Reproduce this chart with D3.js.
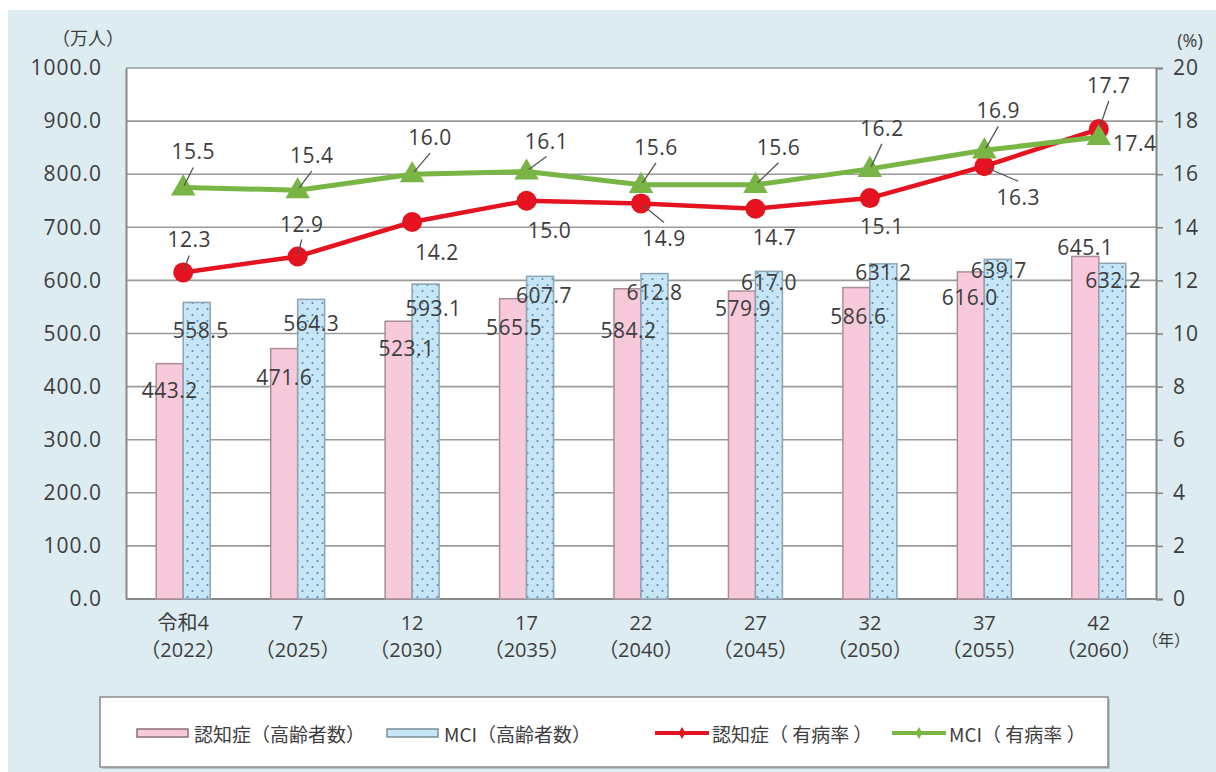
<!DOCTYPE html>
<html>
<head>
<meta charset="utf-8">
<script src="https://cdn.jsdelivr.net/npm/d3@7"></script>
<style>
  body { margin: 0; background: #fff; }
  svg { display: block; font-family: "Open Sans", "Noto Sans CJK JP", sans-serif; }
</style>
</head>
<body>
<svg id="chart" width="1216" height="772"></svg>
<script>
// data
var categories = ['令和4', '7', '12', '17', '22', '27', '32', '37', '42']
var years = ['2022', '2025', '2030', '2035', '2040', '2045', '2050', '2055', '2060']
var dementiaCount = [443.2, 471.6, 523.1, 565.5, 584.2, 579.9, 586.6, 616.0, 645.1]
var mciCount = [558.5, 564.3, 593.1, 607.7, 612.8, 617.0, 631.2, 639.7, 632.2]
var dementiaRate = [12.3, 12.9, 14.2, 15.0, 14.9, 14.7, 15.1, 16.3, 17.7]
var mciRate = [15.5, 15.4, 16.0, 16.1, 15.6, 15.6, 16.2, 16.9, 17.4]
var leftTicks = [0, 100, 200, 300, 400, 500, 600, 700, 800, 900, 1000]
var rightTicks = [0, 2, 4, 6, 8, 10, 12, 14, 16, 18, 20]
var legendLabels = ['認知症（高齢者数）', 'MCI（高齢者数）', '認知症（ 有病率 ）', 'MCI（ 有病率 ）']

// label placement (offsets from the mark, px) - layout only
var dementiaCountOff = [[0,26],[0,28],[8,27],[1,28],[1,41],[1,17],[2,28],[-1,25],[0,-9]]
var mciCountOff = [[4,28],[0,24],[8,24],[4,19],[0,18],[0,11],[0,8],[1,11],[1,17]]
var dementiaRateOff = [[6,-33,1],[4,-33,1],[25,30,0],[23,29,0],[23,35,1],[19,28,0],[12,28,0],[34,31,1],[10,-44,1]]
var mciRateOff = [[10,-36,1],[14,-35,1],[18,-37,1],[20,-31,1],[15,-38,1],[23,-38,1],[12,-41,1],[14,-40,1],[36,6,0]]

var TEXT_COLOR = '#3d3d3d',
	GRID_COLOR = '#9a9a9a',
	PINK = '#f7c9da',
	PINK_EDGE = '#a98d98',
	BLUE = '#c6e6f7',
	BLUE_EDGE = '#8da4b3',
	RED = '#e5131f',
	GREEN = '#79b545',
	BG = '#dcecf1'

var svg = d3.select('#chart')

var defs = svg.append('defs')
var pat = defs.append('pattern')
	.attr('id', 'dots')
	.attr('patternUnits', 'userSpaceOnUse')
	.attr('width', 10)
	.attr('height', 12)
pat.append('rect').attr('width', 10).attr('height', 12).attr('fill', BLUE)
pat.append('circle').attr('cx', 2.5).attr('cy', 3).attr('r', 1.1).attr('fill', '#5b8db0')
pat.append('circle').attr('cx', 7.5).attr('cy', 9).attr('r', 1.1).attr('fill', '#5b8db0')

// background
svg.append('rect')
	.attr('x', 8).attr('y', 10)
	.attr('width', 1208).attr('height', 762)
	.attr('fill', BG)

var L = 126, R = 1156, T = 68, B = 599

var x0 = d3.scaleBand().domain(categories).range([L, R])
var x1 = d3.scaleBand().domain([0, 1]).range([-27, 27])
var yL = d3.scaleLinear().domain([0, 1000]).range([B, T])
var yR = d3.scaleLinear().domain([0, 20]).range([B, T])

svg.append('rect')
	.attr('x', L).attr('y', T)
	.attr('width', R - L).attr('height', B - T)
	.attr('fill', '#fff')

// grid
svg.append('g')
	.selectAll('line')
	.data(leftTicks)
	.enter().append('line')
		.attr('x1', L).attr('x2', R)
		.attr('y1', function(d){ return yL(d) })
		.attr('y2', function(d){ return yL(d) })
		.attr('stroke', GRID_COLOR)
		.attr('stroke-width', 1.6)

// left axis
var leftAxis = svg.append('g')
	.attr('transform', 'translate(' + L + ',0)')
	.call(d3.axisLeft(yL).tickValues(leftTicks).tickSize(0).tickPadding(24).tickFormat(d3.format('.1f')))
leftAxis.select('.domain').attr('stroke', '#888').attr('stroke-width', 2)
leftAxis.selectAll('text')
	.attr('font-size', 21)
	.attr('letter-spacing', 1)
	.attr('fill', TEXT_COLOR)
	.attr('font-family', 'Open Sans')

// right axis
var rightAxis = svg.append('g')
	.attr('transform', 'translate(' + R + ',0)')
	.call(d3.axisRight(yR).tickValues(rightTicks).tickSize(7).tickPadding(10))
rightAxis.select('.domain').attr('stroke', '#888').attr('stroke-width', 2)
rightAxis.selectAll('line').attr('stroke', '#888').attr('stroke-width', 1.6)
rightAxis.selectAll('text')
	.attr('font-size', 21)
	.attr('letter-spacing', 1)
	.attr('fill', TEXT_COLOR)
	.attr('font-family', 'Open Sans')

svg.append('line')
	.attr('x1', L).attr('x2', R)
	.attr('y1', B).attr('y2', B)
	.attr('stroke', '#888').attr('stroke-width', 2)

svg.append('text').text('（万人）')
	.attr('x', 88).attr('y', 38)
	.attr('text-anchor', 'middle').attr('dominant-baseline', 'central')
	.attr('font-size', 18).attr('fill', TEXT_COLOR)
svg.append('text').text('(%)')
	.attr('x', 1190).attr('y', 40)
	.attr('text-anchor', 'middle').attr('dominant-baseline', 'central')
	.attr('font-size', 18).attr('fill', TEXT_COLOR)

// x labels
var xl = svg.append('g').selectAll('g.xl')
	.data(categories)
	.enter().append('g')
		.attr('class', 'xl')
		.attr('transform', function(d){ return 'translate(' + (x0(d) + x0.bandwidth()/2) + ',0)' })
xl.append('text')
	.text(function(d){ return d })
	.attr('y', 622)
	.attr('text-anchor', 'middle').attr('dominant-baseline', 'central')
	.attr('font-size', 20).attr('fill', TEXT_COLOR)
xl.append('text')
	.text(function(d, i){ return '（' + years[i] + '）' })
	.attr('y', 649)
	.attr('text-anchor', 'middle').attr('dominant-baseline', 'central')
	.attr('font-size', 20).attr('fill', TEXT_COLOR)
svg.append('text').text('（年）')
	.attr('x', 1166).attr('y', 640)
	.attr('text-anchor', 'middle').attr('dominant-baseline', 'central')
	.attr('font-size', 16).attr('fill', TEXT_COLOR)

function cx(i){ return x0(categories[i]) + x0.bandwidth()/2 }

// bars
var bars = svg.append('g')
bars.selectAll('rect.dem')
	.data(dementiaCount)
	.enter().append('rect')
		.attr('class', 'dem')
		.attr('x', function(d, i){ return cx(i) + x1(0) })
		.attr('width', x1.bandwidth())
		.attr('y', function(d){ return yL(d) })
		.attr('height', function(d){ return B - yL(d) })
		.attr('fill', PINK)
		.attr('stroke', PINK_EDGE)
		.attr('stroke-width', 1.5)
bars.selectAll('rect.mci')
	.data(mciCount)
	.enter().append('rect')
		.attr('class', 'mci')
		.attr('x', function(d, i){ return cx(i) + x1(1) })
		.attr('width', x1.bandwidth())
		.attr('y', function(d){ return yL(d) })
		.attr('height', function(d){ return B - yL(d) })
		.attr('fill', 'url(#dots)')
		.attr('stroke', BLUE_EDGE)
		.attr('stroke-width', 1.5)

// bar labels
var barLabels = svg.append('g')
	.attr('font-size', 21).attr('letter-spacing', 0.5).attr('fill', TEXT_COLOR)
	.attr('text-anchor', 'middle').attr('dominant-baseline', 'central')
barLabels.selectAll('text.dl')
	.data(dementiaCount)
	.enter().append('text')
		.text(function(d){ return d.toFixed(1) })
		.attr('x', function(d, i){ return cx(i) + x1(0) + x1.bandwidth()/2 + dementiaCountOff[i][0] })
		.attr('y', function(d, i){ return yL(d) + dementiaCountOff[i][1] })
barLabels.selectAll('text.ml')
	.data(mciCount)
	.enter().append('text')
		.text(function(d){ return d.toFixed(1) })
		.attr('x', function(d, i){ return cx(i) + x1(1) + x1.bandwidth()/2 + mciCountOff[i][0] })
		.attr('y', function(d, i){ return yL(d) + mciCountOff[i][1] })

// lines
var line = d3.line()
	.x(function(d, i){ return cx(i) })
	.y(function(d){ return yR(d) })

svg.append('path')
	.datum(dementiaRate)
	.attr('d', line)
	.attr('fill', 'none')
	.attr('stroke', RED)
	.attr('stroke-width', 4.5)
svg.append('g').selectAll('circle')
	.data(dementiaRate)
	.enter().append('circle')
		.attr('cx', function(d, i){ return cx(i) })
		.attr('cy', function(d){ return yR(d) })
		.attr('r', 10)
		.attr('fill', RED)

svg.append('path')
	.datum(mciRate)
	.attr('d', line)
	.attr('fill', 'none')
	.attr('stroke', GREEN)
	.attr('stroke-width', 5)
svg.append('g').selectAll('path')
	.data(mciRate)
	.enter().append('path')
		.attr('d', d3.symbol().type(d3.symbolTriangle).size(260))
		.attr('transform', function(d, i){ return 'translate(' + cx(i) + ',' + (yR(d) + 1) + ')' })
		.attr('fill', GREEN)

// rate labels with leaders
function rateLabels(values, offs) {
	var g = svg.append('g')
	g.selectAll('line')
		.data(values.map(function(v, i){ return {v: v, i: i} }).filter(function(d){ return offs[d.i][2] }))
		.enter().append('line')
			.attr('x1', function(d){ return cx(d.i) + offs[d.i][0] * 0.1 })
			.attr('y1', function(d){ return yR(d.v) + (offs[d.i][1] < 0 ? -2 : 2) })
			.attr('x2', function(d){ return cx(d.i) + offs[d.i][0] })
			.attr('y2', function(d){ return yR(d.v) + offs[d.i][1] + (offs[d.i][1] < 0 ? 16 : -16) })
			.attr('stroke', '#555')
			.attr('stroke-width', 1.3)
	g.selectAll('text')
		.data(values)
		.enter().append('text')
			.text(function(d){ return d.toFixed(1) })
			.attr('x', function(d, i){ return cx(i) + offs[i][0] })
			.attr('y', function(d, i){ return yR(d) + offs[i][1] })
			.attr('text-anchor', 'middle').attr('dominant-baseline', 'central')
			.attr('font-size', 21).attr('letter-spacing', 0.5).attr('fill', TEXT_COLOR)
}
rateLabels(dementiaRate, dementiaRateOff)
rateLabels(mciRate, mciRateOff)

// legend
var lg = svg.append('g')
lg.append('rect')
	.attr('x', 102).attr('y', 699)
	.attr('width', 1008).attr('height', 70)
	.attr('fill', '#b9c4c8')
lg.append('rect')
	.attr('x', 100).attr('y', 697)
	.attr('width', 1008).attr('height', 70)
	.attr('fill', '#fff')
	.attr('stroke', '#8a8a8a')
	.attr('stroke-width', 1.5)

var legendX = [137, 387, 655, 892]
var items = lg.selectAll('g.item')
	.data(legendLabels)
	.enter().append('g')
		.attr('class', 'item')
		.attr('transform', function(d, i){ return 'translate(' + legendX[i] + ',733)' })
items.each(function(d, i){
	var s = d3.select(this)
	if (i < 2) {
		s.append('rect')
			.attr('x', 0).attr('y', -4)
			.attr('width', 51).attr('height', 8)
			.attr('fill', i == 0 ? PINK : BLUE)
			.attr('stroke', i == 0 ? '#8c6f7a' : '#7a8f9c')
			.attr('stroke-width', 1.5)
	} else {
		var c = i == 2 ? RED : GREEN
		s.append('line')
			.attr('x1', 0).attr('x2', 54)
			.attr('y1', 0).attr('y2', 0)
			.attr('stroke', c).attr('stroke-width', 4)
		s.append('path')
			.attr('d', d3.symbol().type(d3.symbolDiamond).size(40))
			.attr('transform', 'translate(27,0)')
			.attr('fill', c)
	}
	s.append('text')
		.text(d)
		.attr('x', 57)
		.attr('dominant-baseline', 'central')
		.attr('font-family', 'Noto Sans CJK JP')
		.attr('font-size', 19)
		.attr('fill', TEXT_COLOR)
})
</script>
</body>
</html>
